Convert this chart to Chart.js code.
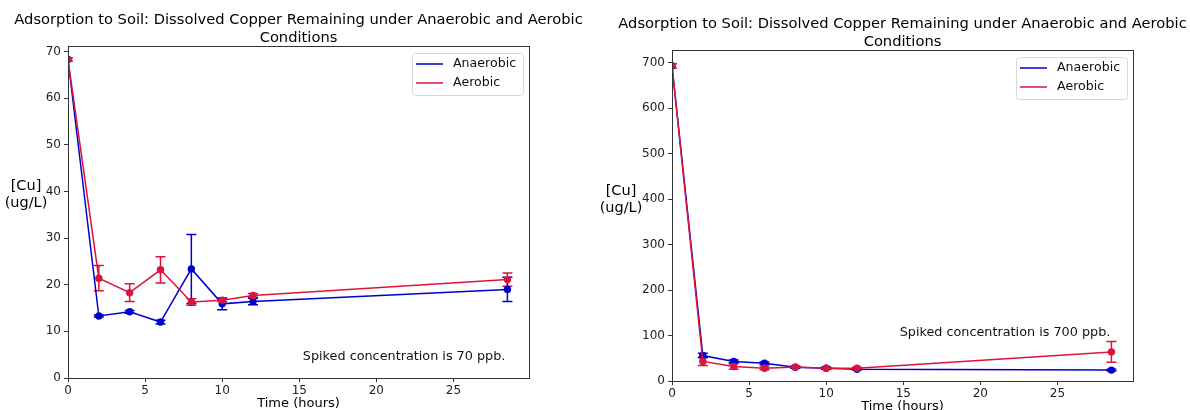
<!DOCTYPE html>
<html>
<head>
<meta charset="utf-8">
<script src="https://cdn.jsdelivr.net/npm/chart.js@4/dist/chart.umd.min.js"></script>
<style>
  html, body { margin: 0; padding: 0; background: #fff; }
  #wrap { position: relative; width: 1190px; height: 410px; overflow: hidden; }
  .box { position: absolute; top: 0; width: 595px; height: 410px; }
</style>
</head>
<body>
<div id="wrap">
  <div class="box" style="left:0"><canvas id="chart70"></canvas></div>
  <div class="box" style="left:595px"><canvas id="chart700"></canvas></div>
</div>
<script>
// sampling times (hours)
const timeHours = [0, 2, 4, 6, 8, 10, 12, 28.5];

// 70 ppb spike
const anaerobic70 = [68.3, 13.3, 14.2, 12.0, 23.4, 15.9, 16.4, 19.0];
const anaerobic70Err = [0, 0.2, 0.3, 0.4, 7.4, 1.25, 0.7, 2.6];
const aerobic70 = [68.3, 21.4, 18.3, 23.2, 16.3, 16.7, 17.7, 21.1];
const aerobic70Err = [0.3, 2.7, 1.9, 2.8, 0.7, 0.3, 0.4, 1.4];

// 700 ppb spike
const anaerobic700 = [693, 56, 43, 39, 30, 28, 26, 24];
const anaerobic700Err = [0, 5, 3, 3, 2, 2, 2, 2];
const aerobic700 = [693, 43, 32, 28, 31, 28, 28, 64];
const aerobic700Err = [5, 9, 6, 3, 2, 2, 2, 23];

const xTicks = [0, 5, 10, 15, 20, 25];

const titleLines = ['Adsorption to Soil: Dissolved Copper Remaining under Anaerobic and Aerobic', 'Conditions'];
const yLabelLines = ['[Cu]', '(ug/L)'];
const xLabel = 'Time (hours)';

const BLUE = '#0000cd';
const RED = '#dc143c';
const FONT = '"DejaVu Sans", sans-serif';

function toPoints(xs, ys) {
  return xs.map((x, i) => ({ x: x, y: ys[i] }));
}

// draws error bars, the frame, titles, axis labels, legend and note
const decorPlugin = {
  id: 'decor',
  beforeDatasetsDraw(chart) {
    const ctx = chart.ctx;
    const xs = chart.scales.x, ys = chart.scales.y;
    const area = chart.chartArea;
    ctx.save();
    ctx.beginPath();
    ctx.rect(area.left, area.top, area.right - area.left, area.bottom - area.top);
    ctx.clip();
    chart.data.datasets.forEach(ds => {
      ctx.strokeStyle = ds.borderColor;
      ctx.lineWidth = 1.5;
      ds.data.forEach((p, i) => {
        const e = ds.errors[i];
        if (!e) return;
        const px = xs.getPixelForValue(p.x);
        const top = ys.getPixelForValue(p.y + e);
        const bot = ys.getPixelForValue(p.y - e);
        ctx.beginPath();
        ctx.moveTo(px, top); ctx.lineTo(px, bot);
        ctx.moveTo(px - 5, top); ctx.lineTo(px + 5, top);
        ctx.moveTo(px - 5, bot); ctx.lineTo(px + 5, bot);
        ctx.stroke();
      });
    });
    ctx.restore();
  },
  afterDraw(chart) {
    const ctx = chart.ctx;
    const area = chart.chartArea;
    const opts = chart.options.plugins.decor;
    const cx = (area.left + area.right) / 2;
    ctx.save();
    // frame
    ctx.strokeStyle = '#333';
    ctx.lineWidth = 1;
    ctx.strokeRect(Math.round(area.left) + 0.5, Math.round(area.top) + 0.5,
      Math.round(area.right - area.left), Math.round(area.bottom - area.top));

    ctx.fillStyle = '#000';
    ctx.textAlign = 'center';
    ctx.textBaseline = 'middle';
    // title
    ctx.font = '14.7px ' + FONT;
    ctx.fillText(titleLines[0], cx, area.top - 26);
    ctx.fillText(titleLines[1], cx, area.top - 8);
    // y label
    ctx.font = '14.5px ' + FONT;
    ctx.fillText(yLabelLines[0], 26, opts.yLabelY);
    ctx.fillText(yLabelLines[1], 26, opts.yLabelY + 17);
    // x label
    ctx.font = '13px ' + FONT;
    ctx.fillText(xLabel, cx, area.bottom + 26);

    // note
    ctx.font = '12.8px ' + FONT;
    ctx.fillStyle = '#111';
    ctx.fillText(opts.note,
      chart.scales.x.getPixelForValue(opts.noteAt[0]),
      chart.scales.y.getPixelForValue(opts.noteAt[1]));

    // legend
    const lw = 111, lh = 42;
    const lx = area.right - 6 - lw, ly = area.top + 7;
    ctx.fillStyle = 'rgba(255,255,255,0.8)';
    ctx.strokeStyle = '#d8d8d8';
    ctx.lineWidth = 1;
    ctx.beginPath();
    ctx.roundRect(lx + 0.5, ly + 0.5, lw, lh, 3);
    ctx.fill();
    ctx.stroke();
    ctx.font = '12.6px ' + FONT;
    ctx.textAlign = 'left';
    chart.data.datasets.slice().sort((a, b) => a.legendIndex - b.legendIndex).forEach((ds, i) => {
      const ry = ly + 11 + i * 19;
      ctx.strokeStyle = ds.borderColor;
      ctx.lineWidth = 1.5;
      ctx.beginPath();
      ctx.moveTo(lx + 4, ry); ctx.lineTo(lx + 31, ry);
      ctx.stroke();
      ctx.fillStyle = '#111';
      ctx.fillText(ds.label, lx + 41, ry);
    });
    ctx.restore();
  }
};

function makeChart(id, anaVals, anaErr, aerVals, aerErr, cfg) {
  return new Chart(document.getElementById(id), {
    type: 'line',
    data: {
      datasets: [
        {
          label: 'Aerobic',
          legendIndex: 1,
          data: toPoints(timeHours, aerVals),
          errors: aerErr,
          borderColor: RED,
          backgroundColor: RED,
          borderWidth: 1.5,
          pointRadius: 3.7,
          pointHoverRadius: 3.7,
          pointBorderWidth: 0,
          tension: 0,
          clip: 0,
          order: 0
        },
        {
          label: 'Anaerobic',
          legendIndex: 0,
          data: toPoints(timeHours, anaVals),
          errors: anaErr,
          borderColor: BLUE,
          backgroundColor: BLUE,
          borderWidth: 1.5,
          pointRadius: 3.7,
          pointHoverRadius: 3.7,
          pointBorderWidth: 0,
          tension: 0,
          clip: 0,
          order: 1
        }
      ]
    },
    options: {
      responsive: true,
      maintainAspectRatio: false,
      animation: false,
      events: [],
      layout: { padding: { top: cfg.top, right: cfg.right, bottom: 0, left: 0 } },
      scales: {
        x: {
          type: 'linear',
          min: 0,
          max: 29.9,
          afterFit: s => { s.height = cfg.xAxisH; },
          afterBuildTicks: s => { s.ticks = xTicks.map(v => ({ value: v })); },
          ticks: { font: { family: FONT, size: 12 }, color: '#222', padding: 2, maxRotation: 0 },
          grid: { display: true, drawOnChartArea: false, tickLength: 4, color: '#333' },
          border: { display: false }
        },
        y: {
          type: 'linear',
          min: 0,
          max: cfg.yMax,
          afterFit: s => { s.width = cfg.yAxisW; },
          afterBuildTicks: s => { s.ticks = cfg.yTicks.map(v => ({ value: v })); },
          ticks: { font: { family: FONT, size: 12 }, color: '#222', padding: 3 },
          grid: { display: true, drawOnChartArea: false, tickLength: 4, color: '#333' },
          border: { display: false }
        }
      },
      plugins: {
        legend: { display: false },
        title: { display: false },
        tooltip: { enabled: false },
        decor: { note: cfg.note, noteAt: cfg.noteAt, yLabelY: cfg.yLabelY }
      }
    },
    plugins: [decorPlugin]
  });
}

makeChart('chart70', anaerobic70, anaerobic70Err, aerobic70, aerobic70Err, {
  top: 46, right: 66, xAxisH: 32, yAxisW: 68,
  yMax: 71.2, yTicks: [0, 10, 20, 30, 40, 50, 60, 70],
  note: 'Spiked concentration is 70 ppb.', noteAt: [21.8, 4.5], yLabelY: 186
});

makeChart('chart700', anaerobic700, anaerobic700Err, aerobic700, aerobic700Err, {
  top: 50, right: 57, xAxisH: 29, yAxisW: 77,
  yMax: 728, yTicks: [0, 100, 200, 300, 400, 500, 600, 700],
  note: 'Spiked concentration is 700 ppb.', noteAt: [21.6, 106], yLabelY: 191
});
</script>
</body>
</html>
